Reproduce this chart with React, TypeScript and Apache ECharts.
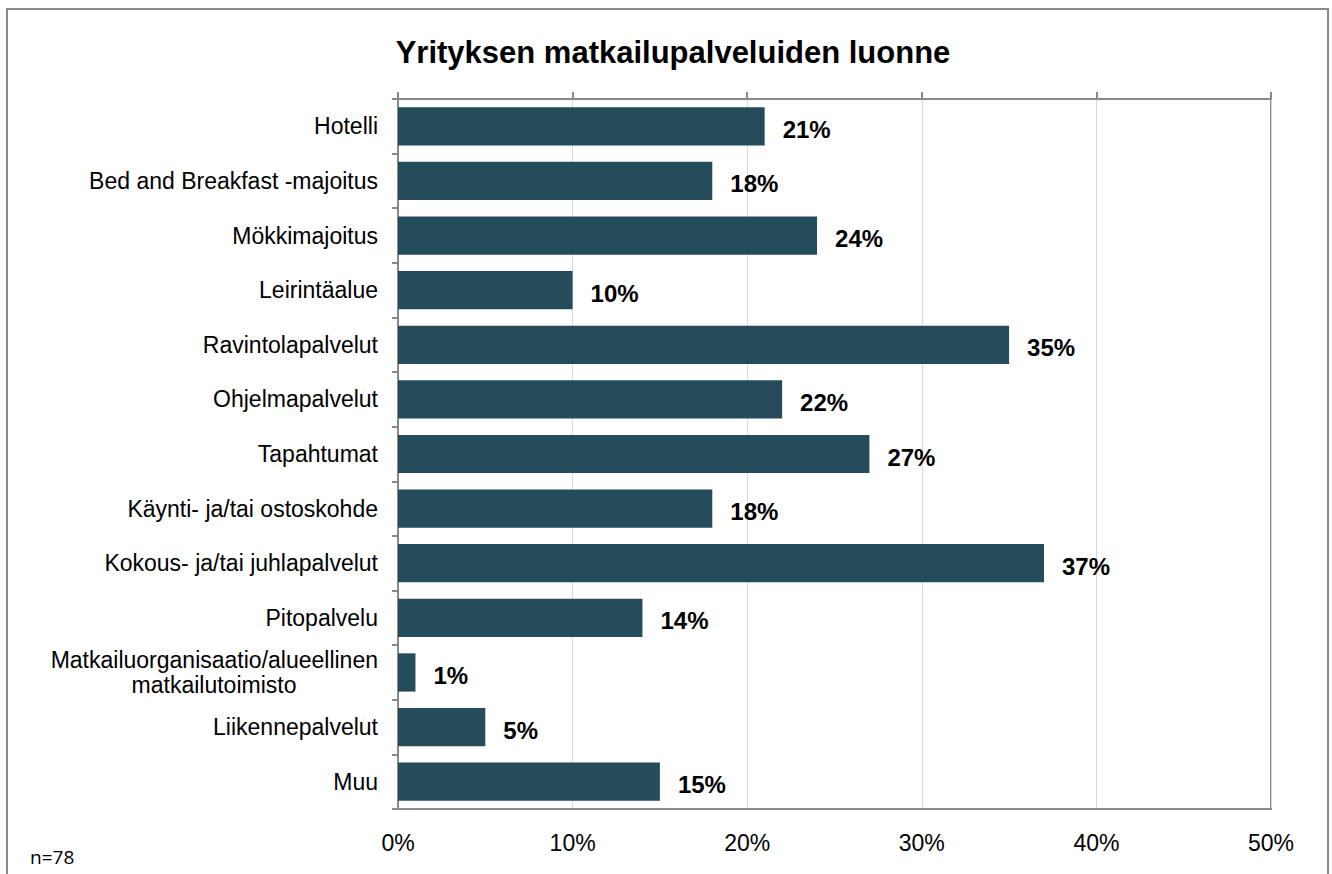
import React, { useEffect, useRef } from "react";
import * as echarts from "echarts";

const titleText = "Yrityksen matkailupalveluiden luonne";
const categories = [
  "Hotelli",
  "Bed and Breakfast -majoitus",
  "Mökkimajoitus",
  "Leirintäalue",
  "Ravintolapalvelut",
  "Ohjelmapalvelut",
  "Tapahtumat",
  "Käynti- ja/tai ostoskohde",
  "Kokous- ja/tai juhlapalvelut",
  "Pitopalvelu",
  "Matkailuorganisaatio/alueellinen\nmatkailutoimisto",
  "Liikennepalvelut",
  "Muu",
];
const values = [21, 18, 24, 10, 35, 22, 27, 18, 37, 14, 1, 5, 15];
const xMin = 0;
const xMax = 50;
const xInterval = 10;
const footnote = "n=78";

export default function App() {
  const ref = useRef<HTMLDivElement>(null);
  useEffect(() => {
    if (!ref.current) return;
    const chart = echarts.init(ref.current, null, { renderer: "svg" });
    const font = "'Liberation Sans', Arial, sans-serif";
    const catSize = 23;
    const axisGray = "#898989";

    // measure widest line of multi-line labels so the second line can be centred under the first
    let blockW = 340;
    try {
      const cv = document.createElement("canvas");
      const ctx = cv.getContext("2d");
      if (ctx) {
        ctx.font = catSize + "px " + font;
        let w = 0;
        categories.forEach((c) => {
          if (c.indexOf("\n") >= 0) {
            c.split("\n").forEach((p) => {
              w = Math.max(w, ctx.measureText(p).width);
            });
          }
        });
        if (w > 0) blockW = Math.ceil(w);
      }
    } catch (e) {}

    chart.setOption({
      animation: false,
      title: {
        text: titleText,
        left: 668,
        top: 32,
        textAlign: "center",
        textStyle: { fontFamily: font, fontSize: 31, fontWeight: "bold", color: "#000" },
      },
      grid: {
        left: 398,
        right: 61,
        top: 99,
        bottom: 65,
        show: true,
        borderColor: axisGray,
        borderWidth: 2,
        backgroundColor: "transparent",
      },
      xAxis: [
        {
          type: "value",
          position: "bottom",
          min: xMin,
          max: xMax,
          interval: xInterval,
          axisLine: { show: true, lineStyle: { color: axisGray, width: 2 } },
          axisTick: { show: false },
          splitLine: { show: true, lineStyle: { color: "#d9d9d9", width: 1 } },
          axisLabel: {
            formatter: (v: number) => v + "%",
            fontFamily: font,
            fontSize: 23,
            color: "#000",
            margin: 22,
          },
        },
        {
          type: "value",
          position: "top",
          min: xMin,
          max: xMax,
          interval: xInterval,
          axisLine: { show: true, lineStyle: { color: axisGray, width: 2 } },
          axisTick: { show: true, length: 7, lineStyle: { color: axisGray, width: 2 } },
          splitLine: { show: false },
          axisLabel: { show: false },
        },
      ],
      yAxis: {
        type: "category",
        data: categories,
        inverse: true,
        axisLine: { show: true, lineStyle: { color: axisGray, width: 2 } },
        axisTick: { show: true, length: 6, alignWithLabel: false, lineStyle: { color: axisGray, width: 2 } },
        axisLabel: {
          fontFamily: font,
          fontSize: catSize,
          color: "#000",
          margin: 20,
          lineHeight: 25,
          formatter: (v: string) => {
            if (v.indexOf("\n") >= 0) {
              const parts = v.split("\n");
              return "{a|" + parts[0] + "}\n{b|" + parts[1] + "}";
            }
            return v;
          },
          rich: {
            a: { fontFamily: font, fontSize: catSize, color: "#000", lineHeight: 25, width: blockW, align: "right" },
            b: { fontFamily: font, fontSize: catSize, color: "#000", lineHeight: 25, width: blockW, align: "center" },
          },
        },
      },
      series: [
        {
          type: "bar",
          data: values,
          xAxisIndex: 0,
          barCategoryGap: "30%",
          itemStyle: { color: "#254C5A" },
          label: {
            show: true,
            position: "right",
            distance: 18,
            offset: [0, 3],
            formatter: (p: any) => p.value + "%",
            fontFamily: font,
            fontSize: 24,
            fontWeight: "bold",
            color: "#000",
          },
        },
      ],
      graphic: [
        {
          type: "rect",
          shape: { x: 7, y: 9, width: 1321, height: 880 },
          style: { fill: "none", stroke: axisGray, lineWidth: 2 },
          silent: true,
        },
        {
          type: "text",
          left: 30,
          top: 847,
          style: { text: footnote, font: "19px 'Open Sans', sans-serif", fill: "#000" },
        },
      ],
    });
    return () => chart.dispose();
  }, []);
  return (
    <div
      ref={ref}
      style={{ position: "absolute", left: 0, top: 0, width: 1332, height: 874 }}
    />
  );
}
